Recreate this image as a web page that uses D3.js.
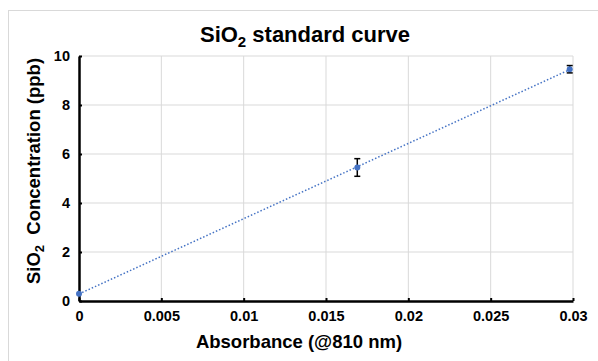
<!DOCTYPE html>
<html>
<head>
<meta charset="utf-8">
<script src="https://cdn.jsdelivr.net/npm/d3@7"></script>
<style>
  body { margin: 0; background: #fff; }
  svg { display: block; font-family: "Liberation Sans", Arial, sans-serif; }
</style>
</head>
<body>
<svg id="chart" width="598" height="361"></svg>
<script>
// data
const absorbance = [0, 0.0169, 0.0298];
const concentration = [0.3, 5.45, 9.46];
const errorBars = [0, 0.36, 0.15];
const xTicks = [0, 0.005, 0.01, 0.015, 0.02, 0.025, 0.03];
const yTicks = [0, 2, 4, 6, 8, 10];

const margin = { top: 56, right: 25, bottom: 60, left: 79 };
const width = 598 - margin.left - margin.right;
const height = 361 - margin.top - margin.bottom;

const svg = d3.select('#chart');

// chart frame
svg.append('rect')
  .attr('x', 8.5).attr('y', 10.5)
  .attr('width', 620).attr('height', 400)
  .attr('fill', '#fff')
  .attr('stroke', '#d9d9d9');

const g = svg.append('g')
  .attr('transform', `translate(${margin.left},${margin.top})`);

const x = d3.scaleLinear().domain([0, 0.03]).range([0, width]);
const y = d3.scaleLinear().domain([0, 10]).range([height, 0]);

// gridlines
g.append('g').selectAll('line')
  .data(xTicks.slice(1))
  .enter().append('line')
  .attr('x1', d => x(d)).attr('x2', d => x(d))
  .attr('y1', 0).attr('y2', height)
  .attr('stroke', '#d9d9d9');

g.append('g').selectAll('line')
  .data(yTicks.slice(1))
  .enter().append('line')
  .attr('x1', 0).attr('x2', width)
  .attr('y1', d => y(d)).attr('y2', d => y(d))
  .attr('stroke', '#d9d9d9');

// axes
const xAxis = g.append('g')
  .attr('transform', `translate(0,${height})`)
  .call(d3.axisBottom(x).tickValues(xTicks).tickFormat(d3.format('')).tickSizeInner(-3).tickSizeOuter(0).tickPadding(10));

const yAxis = g.append('g')
  .call(d3.axisLeft(y).tickValues(yTicks).tickSizeInner(-3).tickSizeOuter(0).tickPadding(10));

[xAxis, yAxis].forEach(a => {
  a.select('.domain').attr('stroke', '#000').attr('stroke-width', 2.5);
  a.selectAll('.tick line').attr('stroke', '#000').attr('stroke-width', 2);
  a.selectAll('.tick text')
    .attr('font-family', '"Liberation Sans", Arial, sans-serif')
    .attr('font-size', 14.5).attr('font-weight', 'bold').attr('fill', '#000');
});
xAxis.selectAll('.tick text').attr('dy', '0.71em');
yAxis.selectAll('.tick text').attr('x', -9);

// trendline (least squares)
const mx = d3.mean(absorbance), my = d3.mean(concentration);
const slope = d3.sum(absorbance, (d, i) => (d - mx) * (concentration[i] - my)) /
  d3.sum(absorbance, d => (d - mx) * (d - mx));
const intercept = my - slope * mx;
const xEnd = d3.max(absorbance);

g.append('line')
  .attr('x1', x(0)).attr('y1', y(intercept))
  .attr('x2', x(xEnd)).attr('y2', y(intercept + slope * xEnd))
  .attr('stroke', '#4472c4')
  .attr('stroke-width', 1.5)
  .attr('stroke-dasharray', '1.5,2');

// error bars
const eb = g.append('g').selectAll('g')
  .data(absorbance.map((d, i) => ({ x: d, y: concentration[i], e: errorBars[i] })).filter(d => d.e > 0))
  .enter().append('g');

eb.append('line')
  .attr('x1', d => x(d.x)).attr('x2', d => x(d.x))
  .attr('y1', d => y(d.y - d.e)).attr('y2', d => y(d.y + d.e))
  .attr('stroke', '#000').attr('stroke-width', 1.5);
eb.selectAll('.cap')
  .data(d => [[d.x, d.y - d.e], [d.x, d.y + d.e]])
  .enter().append('line')
  .attr('x1', d => x(d[0]) - 3).attr('x2', d => x(d[0]) + 3)
  .attr('y1', d => y(d[1])).attr('y2', d => y(d[1]))
  .attr('stroke', '#000').attr('stroke-width', 1.5);

// points
g.selectAll('.pt')
  .data(absorbance)
  .enter().append('circle')
  .attr('cx', d => x(d))
  .attr('cy', (d, i) => y(concentration[i]))
  .attr('r', 3)
  .attr('fill', '#4472c4');

// title
const title = svg.append('text')
  .attr('x', 305).attr('y', 42)
  .attr('text-anchor', 'middle')
  .attr('font-size', 22).attr('font-weight', 'bold');
title.append('tspan').text('SiO');
title.append('tspan').attr('font-size', 15).attr('dy', 5).text('2');
title.append('tspan').attr('dy', -5).text(' standard curve');

// axis titles
svg.append('text')
  .attr('x', 299).attr('y', 348)
  .attr('text-anchor', 'middle')
  .attr('font-size', 18.5).attr('font-weight', 'bold')
  .text('Absorbance (@810 nm)');

const yt = svg.append('text')
  .attr('transform', 'translate(40,171) rotate(-90)')
  .attr('text-anchor', 'middle')
  .attr('font-size', 18.5).attr('font-weight', 'bold')
  .attr('xml:space', 'preserve');
yt.append('tspan').text('SiO');
yt.append('tspan').attr('font-size', 13).attr('dy', 4).text('2');
yt.append('tspan').attr('dy', -4).text('  Concentration (ppb)');
</script>
</body>
</html>
